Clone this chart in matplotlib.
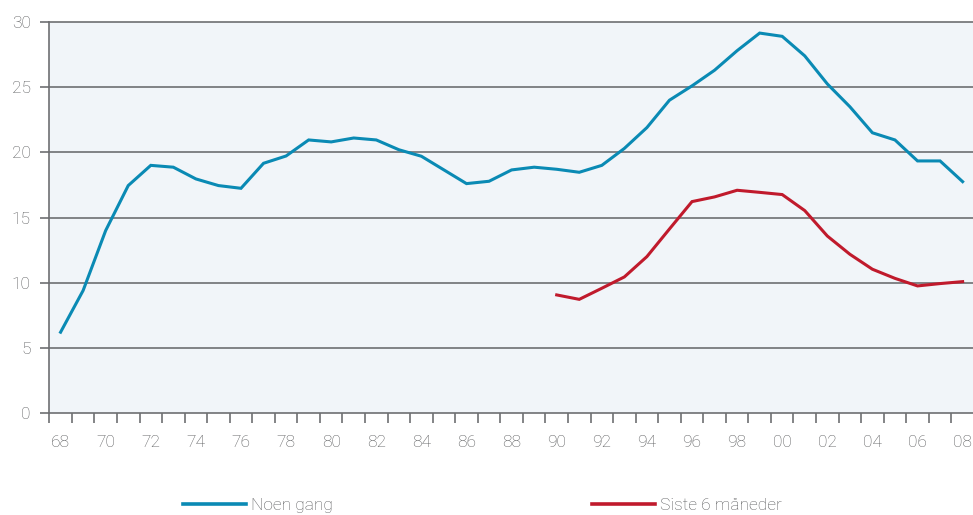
import matplotlib
matplotlib.use("Agg")
import matplotlib.pyplot as plt
from matplotlib.lines import Line2D
import numpy as np

plt.rcParams['font.family'] = ['Roboto', 'DejaVu Sans']
plt.rcParams['font.weight'] = 'light'

years = list(range(1968, 2009))
year_labels = [f"{y % 100:02d}" for y in years]

noen_gang = [6.2, 9.4, 14.0, 17.45, 19.0, 18.86, 17.96, 17.45, 17.24, 19.16,
             19.72, 20.95, 20.8, 21.1, 20.95, 20.2, 19.7, 18.65, 17.6, 17.78,
             18.65, 18.86, 18.7, 18.47, 19.0, 20.3, 21.9, 24.0, 25.1, 26.3,
             27.8, 29.15, 28.9, 27.4, 25.25, 23.5, 21.5, 20.95, 19.34, 19.34,
             17.75]

siste_years = list(range(1990, 2009))
siste_6 = [9.06, 8.72, 9.57, 10.44, 12.0, 14.12, 16.22, 16.58, 17.09, 16.93,
           16.76, 15.53, 13.58, 12.18, 11.03, 10.33, 9.75, 9.93, 10.08]

yticks = [0, 5, 10, 15, 20, 25, 30]

blue = '#0a8ab4'
red = '#c01a2c'
grid_c = '#6e6f72'
text_c = '#58595b'
fs = 12.5

fig = plt.figure(figsize=(9.73, 5.15), dpi=100)
ax = fig.add_axes([49.3 / 973, 102 / 515, 924.6 / 973, 391 / 515])
ax.set_facecolor('#f1f5f9')

x_all = np.arange(len(years))
x_siste = np.array([years.index(y) for y in siste_years])

ax.plot(x_all, noen_gang, color=blue, lw=2.2, solid_joinstyle='miter', zorder=3)
ax.plot(x_siste, siste_6, color=red, lw=2.2, solid_joinstyle='miter', zorder=3)

ax.set_xlim(-0.5, len(years) - 0.5)
ax.set_ylim(0, 30)

for s in ['top', 'right']:
    ax.spines[s].set_visible(False)
for s in ['left', 'bottom']:
    ax.spines[s].set_color(grid_c)
    ax.spines[s].set_linewidth(1.2)

ax.set_yticks(yticks)
ax.set_yticklabels([str(v) for v in yticks])
for v in yticks[1:]:
    ax.axhline(v, color=grid_c, lw=1.2, zorder=1, clip_on=False)
ax.tick_params(axis='y', length=6.5, width=1.2, color=grid_c, pad=7,
               labelsize=fs, labelcolor=text_c)

# major ticks at bin boundaries, labels at bin centres (minor)
ax.set_xticks(np.arange(-0.5, len(years), 1.0))
ax.set_xticklabels([])
ax.tick_params(axis='x', which='major', length=7, width=1.2, color=grid_c)
lab_idx = [i for i, y in enumerate(years) if y % 2 == 0]
ax.set_xticks(lab_idx, minor=True)
ax.set_xticklabels([year_labels[i] for i in lab_idx], minor=True)
ax.tick_params(axis='x', which='minor', length=0, pad=16, labelsize=fs,
               labelcolor=text_c)

h1 = Line2D([], [], color=blue, lw=2.6)
h2 = Line2D([], [], color=red, lw=2.6)
leg_kw = dict(frameon=False, loc='center left', borderpad=0, borderaxespad=0,
              handlelength=3.6, handletextpad=0.3, fontsize=fs,
              labelcolor=text_c)
fig.legend([h1], ['Noen gang'], bbox_to_anchor=(183 / 973, 10 / 515), **leg_kw)
fig.legend([h2], ['Siste 6 måneder'], bbox_to_anchor=(592 / 973, 10 / 515), **leg_kw)

fig.savefig('out.png', dpi=100)
